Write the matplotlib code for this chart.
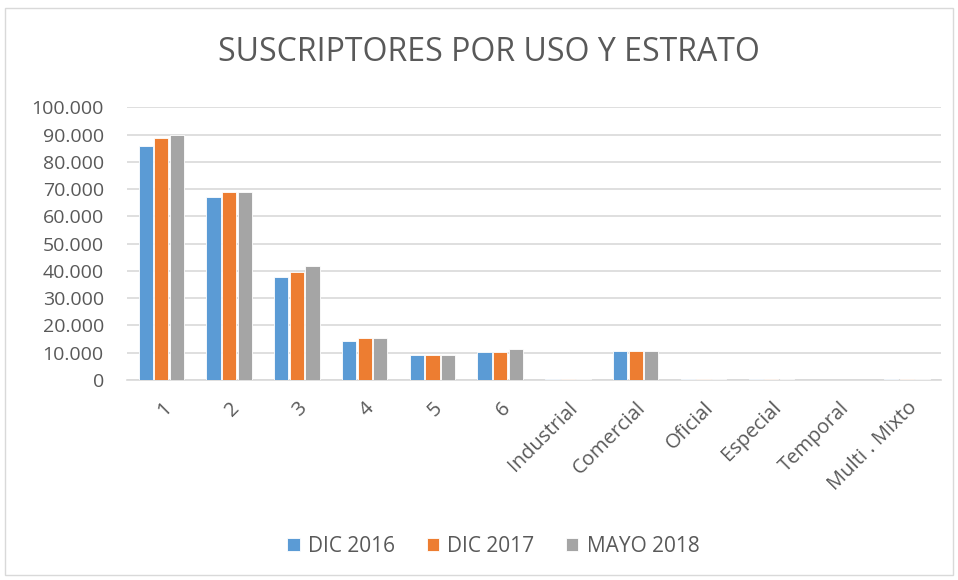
import numpy as np
import matplotlib.pyplot as plt
from matplotlib.patches import Rectangle
from matplotlib.ticker import FuncFormatter

categorias = ["1", "2", "3", "4", "5", "6", "Industrial", "Comercial",
              "Oficial", "Especial", "Temporal", "Multi . Mixto"]
dic_2016 = [85700, 67000, 37700, 14300, 9200, 10300, 300, 10500, 300, 300, 20, 300]
dic_2017 = [88600, 69100, 39600, 15400, 9200, 10300, 300, 10500, 300, 300, 20, 300]
mayo_2018 = [89700, 69100, 41700, 15400, 9200, 11300, 300, 10500, 300, 300, 20, 300]
series = ["DIC 2016", "DIC 2017", "MAYO 2018"]
colores = ["#5B9BD5", "#ED7D31", "#A5A5A5"]

plt.rcParams["font.family"] = ["Open Sans", "DejaVu Sans"]

fig = plt.figure(figsize=(9.58, 5.8), dpi=100)
ax = fig.add_axes([0.133, 0.345, 0.849, 0.47])

x = np.arange(len(categorias))
w = 0.21
for i, (vals, nombre, c) in enumerate(zip([dic_2016, dic_2017, mayo_2018], series, colores)):
    ax.bar(x + (i - 1) * (w + 0.02), vals, w, color=c, label=nombre,
           edgecolor="white", linewidth=0.6, zorder=3)

ax.set_xlim(-0.5, len(categorias) - 0.5)
ax.set_ylim(0, 100000)
ax.set_yticks(np.arange(0, 100001, 10000))
ax.yaxis.set_major_formatter(FuncFormatter(lambda v, p: f"{v:,.0f}".replace(",", ".")))
ax.grid(axis="y", color="#D9D9D9", linewidth=1.2, zorder=0)
for s in ["top", "right", "left"]:
    ax.spines[s].set_visible(False)
ax.spines["bottom"].set_color("#D9D9D9")
ax.spines["bottom"].set_linewidth(1.2)
ax.tick_params(axis="both", length=0, colors="#595959")
ax.tick_params(axis="y", pad=17, labelsize=14)
ax.tick_params(axis="x", pad=13, labelsize=14.5)
ax.set_xticks(x)
ax.set_xticklabels(categorias, rotation=45, ha="right", rotation_mode="anchor")

fig.text(0.51, 0.91, "SUSCRIPTORES POR USO Y ESTRATO", ha="center", va="center",
         fontsize=23, color="#595959")

ax.legend(loc="center", bbox_to_anchor=(0.515, 0.058), bbox_transform=fig.transFigure,
          ncol=3, frameon=False, fontsize=15, labelcolor="#595959",
          handlelength=0.6, handleheight=0.6, columnspacing=1.5, handletextpad=0.4)

fig.patches.append(Rectangle((0.005, 0.008), 0.99, 0.978, transform=fig.transFigure,
                             fill=False, edgecolor="#D9D9D9", linewidth=1))

fig.savefig("out.png", dpi=100)
